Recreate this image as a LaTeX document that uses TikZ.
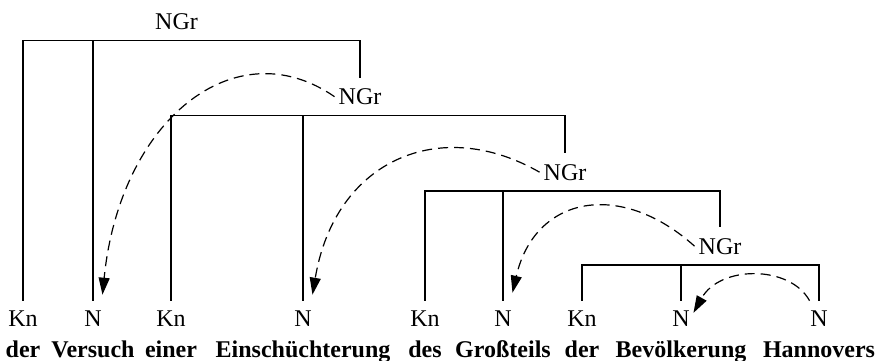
\documentclass[tikz,border=0pt]{standalone}
\usepackage{fontspec}
\setmainfont{Liberation Serif}
\usetikzlibrary{arrows.meta}

\begin{document}
\begin{tikzpicture}[
        x=1pt, y=-1pt,
        line width=1.6pt,
        cat/.style={font=\fontsize{24}{28}\selectfont, inner xsep=0pt, inner ysep=9.5pt, anchor=base},
        phr/.style={font=\fontsize{24}{28}\selectfont, inner ysep=10pt, anchor=base},
        word/.style={font=\fontsize{24}{28}\selectfont\bfseries, inner sep=0pt, anchor=base},
        arr/.style={-{Triangle[length=17pt,width=11pt]}, dash pattern=on 10pt off 6pt, line width=1.2pt}
        ]
        \useasboundingbox (0,0) rectangle (878,361);
        % phrase labels
        \node[phr] (ngr1) at (176.5,29.5) {NGr};
        \node[phr] (ngr2) at (360,104.5) {NGr};
        \node[phr] (ngr3) at (565,180) {NGr};
        \node[phr] (ngr4) at (720,254) {NGr};
        % leaf categories
        \node[cat] (kn1) at (23,326.7) {Kn};
        \node[cat] (n1) at (93,326.7) {N};
        \node[cat] (kn2) at (171,326.7) {Kn};
        \node[cat] (n2) at (303,326.7) {N};
        \node[cat] (kn3) at (425,326.7) {Kn};
        \node[cat] (n3) at (503,326.7) {N};
        \node[cat] (kn4) at (582,326.7) {Kn};
        \node[cat] (n4) at (681,326.7) {N};
        \node[cat] (n5) at (819,326.7) {N};
        % words
        \node[word] (w1) at (23,357.3) {der};
        \node[word] (w2) at (93,357.3) {Versuch};
        \node[word] (w3) at (171,357.3) {einer};
        \node[word] (w4) at (303,357.3) {Einschüchterung};
        \node[word] (w5) at (425,357.3) {des};
        \node[word] (w6) at (503,357.3) {Großteils};
        \node[word] (w7) at (582,357.3) {der};
        \node[word] (w8) at (681,357.3) {Bevölkerung};
        \node[word] (w9) at (819,357.3) {Hannovers};
        % brackets
        \draw (kn1.north) -- (kn1.north |- ngr1.south) -| (ngr2.north);
        \draw (n1.north) -- (n1.north |- ngr1.south);
        \draw (kn2.north) -- (kn2.north |- ngr2.south) -| (ngr3.north);
        \draw (n2.north) -- (n2.north |- ngr2.south);
        \draw (kn3.north) -- (kn3.north |- ngr3.south) -| (ngr4.north);
        \draw (n3.north) -- (n3.north |- ngr3.south);
        \draw (kn4.north) -- (kn4.north |- ngr4.south) -| (n5.north);
        \draw (n4.north) -- (n4.north |- ngr4.south);
        % heads
        \draw[arr] (ngr2.west) .. controls (235,28) and (120,120) .. ([yshift=6pt]n1.north east);
        \draw[arr] (ngr3.west) .. controls (440,115) and (335,160) .. ([yshift=6pt]n2.north east);
        \draw[arr] (ngr4.west) .. controls (621,180) and (535,195) .. ([yshift=8pt]n3.north east);
        \draw[arr] (n5.north west) .. controls (790,265) and (720,265) .. ([xshift=3pt,yshift=6pt]n4.east);
\end{tikzpicture}
\end{document}
